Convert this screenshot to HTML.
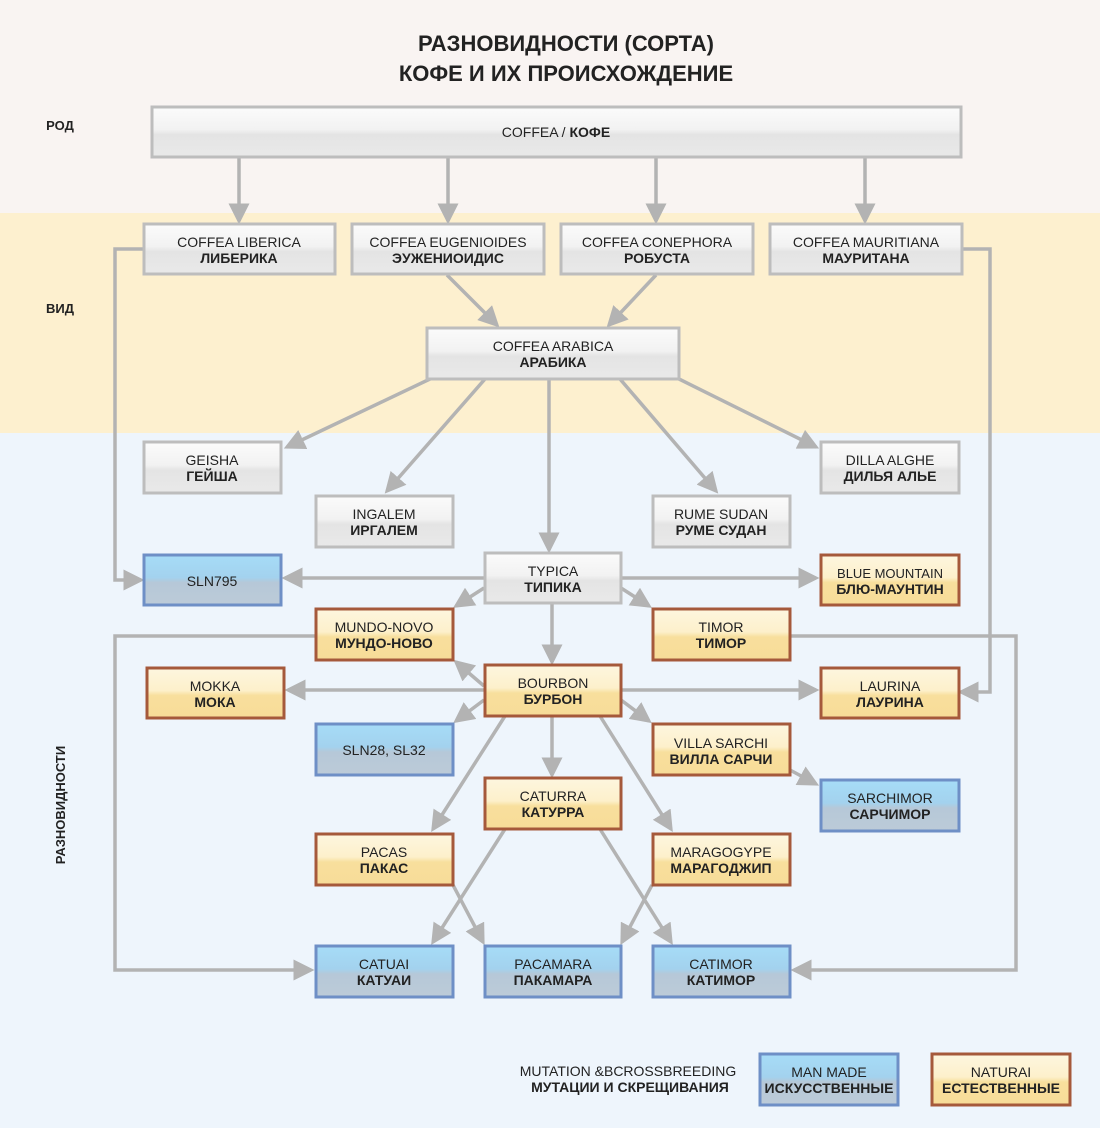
<!DOCTYPE html>
<html><head><meta charset="utf-8"><style>
body{margin:0;width:1100px;height:1128px;overflow:hidden;font-family:"Liberation Sans",sans-serif}
text{font-family:"Liberation Sans","DejaVu Sans",sans-serif}
</style></head><body>
<svg width="1100" height="1128" xmlns="http://www.w3.org/2000/svg">
<defs>
<linearGradient id="g" x1="0" y1="0" x2="0" y2="1"><stop offset="0" stop-color="#fbfbfb"/><stop offset="0.45" stop-color="#f2f2f2"/><stop offset="0.55" stop-color="#e4e4e4"/><stop offset="1" stop-color="#e9e9e9"/></linearGradient>
<linearGradient id="b" x1="0" y1="0" x2="0" y2="1"><stop offset="0" stop-color="#a6dcf7"/><stop offset="0.45" stop-color="#a3d2ee"/><stop offset="0.55" stop-color="#b6c8d8"/><stop offset="1" stop-color="#bccbd8"/></linearGradient>
<linearGradient id="o" x1="0" y1="0" x2="0" y2="1"><stop offset="0" stop-color="#fdf6df"/><stop offset="0.45" stop-color="#fdf0cb"/><stop offset="0.55" stop-color="#f8df9d"/><stop offset="1" stop-color="#f7dc98"/></linearGradient>
<marker id="a" markerWidth="6" markerHeight="6" refX="5" refY="3" orient="auto" markerUnits="strokeWidth"><path d="M0,0 L6,3 L0,6 z" fill="#b3b3b3"/></marker>
</defs>
<rect x="0" y="0" width="1100" height="213" fill="#f9f4f2"/>
<rect x="0" y="213" width="1100" height="220" fill="#fdf0cf"/>
<rect x="0" y="433" width="1100" height="695" fill="#eef5fc"/>
<g font-weight="bold" font-size="22" fill="#222" text-anchor="middle">
<text x="566" y="51">РАЗНОВИДНОСТИ (СОРТА)</text>
<text x="566" y="81">КОФЕ И ИХ ПРОИСХОЖДЕНИЕ</text>
</g>
<g font-weight="bold" font-size="13" fill="#222" text-anchor="middle">
<text x="60" y="130">РОД</text>
<text x="60" y="313">ВИД</text>
<text transform="translate(65,805) rotate(-90)">РАЗНОВИДНОСТИ</text>
</g>
<g stroke="#b3b3b3" stroke-width="3.5" fill="none" marker-end="url(#a)">
<path d="M239,158 V221"/><path d="M448,158 V221"/><path d="M656,158 V221"/><path d="M865,158 V221"/>
<path d="M447,275 L497,325"/><path d="M656,275 L609,325"/>
<path d="M430,379 L287,447"/><path d="M485,379 L387,491"/><path d="M549,379 V550"/><path d="M620,379 L716,491"/><path d="M679,379 L816,447"/>
<path d="M143,249 H115 V580 H141"/>
<path d="M962,249 H990 V692 H961"/>
<path d="M484,578 H285"/><path d="M621,578 H816"/><path d="M484,588 L456,606"/><path d="M621,588 L649,606"/><path d="M552,603 V662"/>
<path d="M484,686 L456,662"/><path d="M484,690 H288"/><path d="M621,690 H816"/><path d="M484,700 L456,721"/><path d="M621,700 L649,721"/><path d="M552,716 V775"/><path d="M505,716 L433,829"/><path d="M600,716 L671,829"/>
<path d="M790,770 L816,784"/>
<path d="M505,829 L433,942"/><path d="M600,829 L671,942"/><path d="M453,885 L483,942"/><path d="M652,885 L622,942"/>
<path d="M315,636 H115 V970 H311"/><path d="M790,636 H1016 V970 H794"/>
</g>
<g font-size="14" text-anchor="middle" fill="#222">
<g stroke-width="3">
<rect x="152" y="107" width="809" height="50" fill="url(#g)" stroke="#bdbdbd"/>
<rect x="144" y="224" width="191" height="50" fill="url(#g)" stroke="#bdbdbd"/>
<rect x="352" y="224" width="192" height="50" fill="url(#g)" stroke="#bdbdbd"/>
<rect x="561" y="224" width="192" height="50" fill="url(#g)" stroke="#bdbdbd"/>
<rect x="770" y="224" width="192" height="50" fill="url(#g)" stroke="#bdbdbd"/>
<rect x="427" y="328" width="252" height="51" fill="url(#g)" stroke="#bdbdbd"/>
<rect x="144" y="442" width="137" height="51" fill="url(#g)" stroke="#bdbdbd"/>
<rect x="821" y="442" width="138" height="51" fill="url(#g)" stroke="#bdbdbd"/>
<rect x="316" y="496" width="137" height="51" fill="url(#g)" stroke="#bdbdbd"/>
<rect x="653" y="496" width="137" height="51" fill="url(#g)" stroke="#bdbdbd"/>
<rect x="485" y="553" width="136" height="50" fill="url(#g)" stroke="#bdbdbd"/>
<rect x="144" y="555" width="137" height="50" fill="url(#b)" stroke="#6e8fc6"/>
<rect x="821" y="555" width="138" height="50" fill="url(#o)" stroke="#a5593b"/>
<rect x="316" y="609" width="137" height="51" fill="url(#o)" stroke="#a5593b"/>
<rect x="653" y="609" width="137" height="51" fill="url(#o)" stroke="#a5593b"/>
<rect x="147" y="668" width="137" height="50" fill="url(#o)" stroke="#a5593b"/>
<rect x="485" y="665" width="136" height="51" fill="url(#o)" stroke="#a5593b"/>
<rect x="821" y="668" width="138" height="50" fill="url(#o)" stroke="#a5593b"/>
<rect x="316" y="724" width="137" height="51" fill="url(#b)" stroke="#6e8fc6"/>
<rect x="653" y="724" width="137" height="51" fill="url(#o)" stroke="#a5593b"/>
<rect x="821" y="780" width="138" height="51" fill="url(#b)" stroke="#6e8fc6"/>
<rect x="485" y="778" width="136" height="51" fill="url(#o)" stroke="#a5593b"/>
<rect x="316" y="834" width="137" height="51" fill="url(#o)" stroke="#a5593b"/>
<rect x="653" y="834" width="137" height="51" fill="url(#o)" stroke="#a5593b"/>
<rect x="316" y="946" width="137" height="51" fill="url(#b)" stroke="#6e8fc6"/>
<rect x="485" y="946" width="136" height="51" fill="url(#b)" stroke="#6e8fc6"/>
<rect x="653" y="946" width="137" height="51" fill="url(#b)" stroke="#6e8fc6"/>
<rect x="760" y="1054" width="138" height="51" fill="url(#b)" stroke="#6e8fc6"/>
<rect x="932" y="1054" width="138" height="51" fill="url(#o)" stroke="#a5593b"/>
</g>
<text x="556" y="137">COFFEA / <tspan font-weight="bold">КОФЕ</tspan></text>
<text x="239" y="247">COFFEA LIBERICA</text><text x="239" y="263" font-weight="bold">ЛИБЕРИКА</text>
<text x="448" y="247">COFFEA EUGENIOIDES</text><text x="448" y="263" font-weight="bold">ЭУЖЕНИОИДИС</text>
<text x="657" y="247">COFFEA CONEPHORA</text><text x="657" y="263" font-weight="bold">РОБУСТА</text>
<text x="866" y="247">COFFEA MAURITIANA</text><text x="866" y="263" font-weight="bold">МАУРИТАНА</text>
<text x="553" y="351">COFFEA ARABICA</text><text x="553" y="367" font-weight="bold">АРАБИКА</text>
<text x="212" y="465">GEISHA</text><text x="212" y="481" font-weight="bold">ГЕЙША</text>
<text x="890" y="465">DILLA ALGHE</text><text x="890" y="481" font-weight="bold">ДИЛЬЯ АЛЬЕ</text>
<text x="384" y="519">INGALEM</text><text x="384" y="535" font-weight="bold">ИРГАЛЕМ</text>
<text x="721" y="519">RUME SUDAN</text><text x="721" y="535" font-weight="bold">РУМЕ СУДАН</text>
<text x="553" y="576">TYPICA</text><text x="553" y="592" font-weight="bold">ТИПИКА</text>
<text x="212" y="586">SLN795</text>
<text x="890" y="578" font-size="13">BLUE MOUNTAIN</text><text x="890" y="594" font-weight="bold">БЛЮ-МАУНТИН</text>
<text x="384" y="632">MUNDO-NOVO</text><text x="384" y="648" font-weight="bold">МУНДО-НОВО</text>
<text x="721" y="632">TIMOR</text><text x="721" y="648" font-weight="bold">ТИМОР</text>
<text x="215" y="691">MOKKA</text><text x="215" y="707" font-weight="bold">МОКА</text>
<text x="553" y="688">BOURBON</text><text x="553" y="704" font-weight="bold">БУРБОН</text>
<text x="890" y="691">LAURINA</text><text x="890" y="707" font-weight="bold">ЛАУРИНА</text>
<text x="384" y="755">SLN28, SL32</text>
<text x="721" y="748">VILLA SARCHI</text><text x="721" y="764" font-weight="bold">ВИЛЛА САРЧИ</text>
<text x="890" y="803">SARCHIMOR</text><text x="890" y="819" font-weight="bold">САРЧИМОР</text>
<text x="553" y="801">CATURRA</text><text x="553" y="817" font-weight="bold">КАТУРРА</text>
<text x="384" y="857">PACAS</text><text x="384" y="873" font-weight="bold">ПАКАС</text>
<text x="721" y="857">MARAGOGYPE</text><text x="721" y="873" font-weight="bold">МАРАГОДЖИП</text>
<text x="384" y="969">CATUAI</text><text x="384" y="985" font-weight="bold">КАТУАИ</text>
<text x="553" y="969">PACAMARA</text><text x="553" y="985" font-weight="bold">ПАКАМАРА</text>
<text x="721" y="969">CATIMOR</text><text x="721" y="985" font-weight="bold">КАТИМОР</text>
<text x="829" y="1077">MAN MADE</text><text x="829" y="1093" font-weight="bold">ИСКУССТВЕННЫЕ</text>
<text x="1001" y="1077">NATURAI</text><text x="1001" y="1093" font-weight="bold">ЕСТЕСТВЕННЫЕ</text>
<text x="628" y="1076">MUTATION &amp;BCROSSBREEDING</text><text x="630" y="1092" font-weight="bold">МУТАЦИИ И СКРЕЩИВАНИЯ</text>
</g>
</svg>
</body></html>
